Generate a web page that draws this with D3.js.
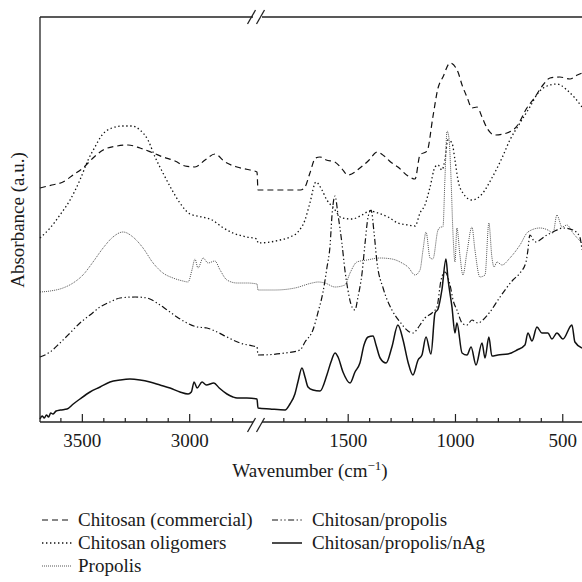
<!DOCTYPE html>
<html><head><meta charset="utf-8">
<script src="https://cdn.jsdelivr.net/npm/d3@7"></script>
<style>
body{margin:0;background:#fff}
svg{display:block}
text{font-family:"Liberation Serif","DejaVu Serif",serif;fill:#1a1a1a}
</style>
</head><body>
<svg id="chart" width="582" height="582"></svg>
<script>
// ---------- DATA (wavenumber cm^-1, absorbance a.u.) ----------
const seriesNames = ["Chitosan (commercial)","Chitosan oligomers","Propolis","Chitosan/propolis","Chitosan/propolis/nAg"];
const majorTicks = [3500,3000,1500,1000,500];
const leftMinorTicks = [3600,3400,3300,3200,3100,2900,2800];
const rightMinorTicks = [1800,1700,1600,1400,1300,1200,1100,900,800,700,600];

const chitosanCommercial = [[3695,2.34],[3640,2.37],[3588,2.40],[3541,2.47],[3495,2.54],[3448,2.64],[3401,2.72],[3336,2.76],[3285,2.77],[3229,2.74],[3168,2.69],[3122,2.65],[3066,2.61],[3019,2.56],[2973,2.55],[2926,2.62],[2880,2.68],[2833,2.60],[2777,2.55],[2716,2.52],[2684,2.50],
[1918,2.32],[1815,2.32],[1720,2.32],[1699,2.35],[1676,2.49],[1650,2.64],[1629,2.65],[1600,2.62],[1560,2.60],[1530,2.54],[1499,2.47],[1443,2.54],[1400,2.62],[1363,2.70],[1330,2.66],[1300,2.60],[1266,2.55],[1219,2.46],[1186,2.43],[1163,2.67],[1130,2.71],[1103,3.05],[1079,3.34],[1056,3.45],[1023,3.59],[986,3.50],[967,3.37],[944,3.25],[921,3.14],[897,3.15],[874,3.05],[851,2.94],[814,2.87],[758,2.89],[711,2.96],[665,3.14],[627,3.25],[590,3.37],[557,3.44],[511,3.45],[464,3.43],[430,3.47],[408,3.49]];

const chitosanOligomers = [[3695,1.84],[3648,1.94],[3602,2.07],[3555,2.22],[3509,2.42],[3471,2.62],[3439,2.75],[3406,2.87],[3360,2.94],[3313,2.96],[3266,2.96],[3229,2.92],[3192,2.82],[3159,2.65],[3122,2.49],[3080,2.32],[3043,2.19],[2996,2.08],[2940,2.05],[2893,2.02],[2847,1.95],[2796,1.89],[2731,1.85],[2684,1.83],
[1918,1.79],[1815,1.82],[1769,1.85],[1732,1.90],[1699,2.02],[1676,2.19],[1648,2.40],[1620,2.32],[1597,2.22],[1569,2.15],[1527,2.04],[1480,2.03],[1433,2.07],[1396,2.11],[1359,2.09],[1312,2.05],[1266,1.99],[1219,1.97],[1186,1.96],[1163,2.09],[1140,2.17],[1116,2.35],[1093,2.55],[1079,2.57],[1061,2.52],[1047,2.62],[1033,2.82],[1014,2.79],[1000,2.62],[986,2.42],[963,2.29],[921,2.22],[874,2.28],[828,2.44],[781,2.64],[744,2.82],[697,2.99],[651,3.15],[613,3.29],[571,3.36],[525,3.38],[478,3.32],[441,3.24],[408,3.15]];

const propolis = [[3695,1.30],[3648,1.31],[3588,1.34],[3541,1.39],[3495,1.47],[3448,1.60],[3401,1.74],[3355,1.85],[3308,1.90],[3262,1.85],[3215,1.74],[3168,1.59],[3122,1.49],[3075,1.44],[3029,1.41],[3005,1.40],[2987,1.52],[2973,1.63],[2959,1.54],[2935,1.64],[2912,1.59],[2880,1.61],[2856,1.52],[2824,1.42],[2777,1.39],[2731,1.39],[2684,1.38],
[1918,1.32],[1839,1.32],[1746,1.34],[1666,1.39],[1638,1.40],[1606,1.39],[1559,1.35],[1513,1.37],[1489,1.49],[1457,1.60],[1410,1.62],[1349,1.64],[1294,1.63],[1247,1.59],[1219,1.55],[1186,1.47],[1163,1.52],[1149,1.72],[1135,1.90],[1116,1.64],[1103,1.63],[1079,1.92],[1065,1.95],[1056,1.95],[1047,2.42],[1037,2.91],[1028,2.84],[1019,2.47],[1009,1.87],[1000,1.60],[991,1.94],[977,1.67],[963,1.47],[944,1.70],[921,1.95],[907,1.72],[884,1.45],[860,1.47],[842,1.99],[828,1.65],[818,1.55],[804,1.60],[781,1.57],[744,1.64],[697,1.77],[660,1.90],[604,1.94],[567,1.92],[543,1.89],[525,2.07],[501,1.95],[478,1.97],[450,1.89],[408,1.79]];

const chitosanPropolis = [[3695,0.65],[3648,0.70],[3602,0.79],[3555,0.89],[3509,0.99],[3462,1.07],[3415,1.15],[3369,1.20],[3322,1.24],[3252,1.25],[3196,1.24],[3150,1.19],[3103,1.12],[3057,1.05],[3010,0.99],[2963,0.95],[2917,0.94],[2870,0.90],[2824,0.85],[2763,0.79],[2703,0.76],[2684,0.75],
[1918,0.67],[1792,0.69],[1722,0.72],[1699,0.80],[1662,0.92],[1638,1.10],[1615,1.30],[1597,1.54],[1582,1.77],[1573,2.07],[1559,2.26],[1545,2.07],[1527,1.79],[1513,1.52],[1499,1.32],[1480,1.15],[1466,1.12],[1452,1.25],[1433,1.49],[1419,1.79],[1405,2.05],[1391,2.12],[1377,1.89],[1363,1.59],[1335,1.34],[1294,1.12],[1256,1.00],[1219,0.91],[1196,0.89],[1163,0.97],[1140,1.04],[1107,1.09],[1084,1.15],[1065,1.42],[1047,1.50],[1023,1.37],[1009,1.22],[991,1.12],[963,0.98],[944,0.97],[921,1.02],[893,0.99],[870,1.02],[837,1.10],[790,1.25],[730,1.42],[697,1.49],[669,1.60],[660,1.72],[651,1.87],[627,1.80],[571,1.87],[543,1.90],[497,1.94],[450,1.92],[418,1.85],[408,1.72]];

const chitosanPropolisNAg = [[3695,0.03],[3685,0.06],[3675,0.04],[3665,0.07],[3655,0.05],[3645,0.09],[3635,0.08],[3620,0.11],[3600,0.12],[3569,0.13],[3540,0.18],[3509,0.23],[3462,0.30],[3415,0.35],[3369,0.40],[3322,0.42],[3276,0.43],[3229,0.42],[3183,0.40],[3136,0.37],[3089,0.34],[3043,0.30],[3005,0.28],[2990,0.30],[2977,0.40],[2963,0.34],[2940,0.40],[2920,0.37],[2885,0.39],[2860,0.34],[2824,0.28],[2796,0.25],[2777,0.24],[2731,0.24],[2684,0.23],
[1918,0.14],[1862,0.13],[1792,0.12],[1769,0.18],[1746,0.28],[1732,0.40],[1713,0.54],[1699,0.45],[1685,0.35],[1662,0.32],[1629,0.31],[1597,0.47],[1578,0.60],[1559,0.69],[1545,0.65],[1522,0.50],[1489,0.39],[1466,0.50],[1443,0.59],[1424,0.77],[1405,0.85],[1382,0.86],[1368,0.77],[1349,0.64],[1321,0.59],[1294,0.75],[1266,0.97],[1242,0.82],[1219,0.60],[1196,0.47],[1172,0.62],[1154,0.67],[1135,0.85],[1112,0.68],[1093,1.09],[1079,1.13],[1061,1.32],[1042,1.63],[1033,1.44],[1014,1.15],[1000,0.89],[991,0.99],[967,0.69],[944,0.67],[925,0.75],[902,0.57],[874,0.79],[860,0.64],[842,0.85],[828,0.66],[800,0.67],[753,0.68],[711,0.72],[674,0.77],[660,0.89],[641,0.81],[618,0.95],[595,0.89],[567,0.89],[548,0.83],[525,0.89],[497,0.83],[455,0.97],[441,0.80],[408,0.74]];

// ---------- LAYOUT ----------
const svg = d3.select("#chart");
const plotLeft = 40, plotTop = 17, plotBottom = 422, plotRight = 582;
const xLeft = d3.scaleLinear().domain([3695, 2684]).range([plotLeft, 257]);
const xRight = d3.scaleLinear().domain([1918, 408]).range([258, plotRight]);
const xPos = w => (w >= 2300 ? xLeft(w) : xRight(w));
const y = d3.scaleLinear().domain([0, 4.05]).range([plotBottom, plotTop]);

const styles = [
  {data: chitosanCommercial, dash: "6,4", color: "#111", width: 1.2},
  {data: chitosanOligomers, dash: "1.4,2.6", color: "#111", width: 1.3},
  {data: propolis, dash: "1,1", color: "#555", width: 1.0},
  {data: chitosanPropolis, dash: "6,2.5,1.3,2.5,1.3,2.5", color: "#111", width: 1.2},
  {data: chitosanPropolisNAg, dash: null, color: "#111", width: 1.5}
];

const line = d3.line().x(d => xPos(d[0])).y(d => y(d[1])).curve(d3.curveMonotoneX);

svg.append("g").selectAll("path").data(styles).join("path")
  .attr("d", d => line(d.data))
  .attr("fill", "none")
  .attr("stroke", d => d.color)
  .attr("stroke-width", d => d.width)
  .attr("stroke-dasharray", d => d.dash);

// ---------- AXES / FRAME ----------
const frame = svg.append("g").attr("stroke", "#222").attr("stroke-width", 1.3).attr("fill", "none");
frame.append("line").attr("x1", plotLeft).attr("x2", plotLeft).attr("y1", plotTop).attr("y2", plotBottom);
frame.append("line").attr("x1", plotLeft).attr("x2", 253).attr("y1", plotTop).attr("y2", plotTop);
frame.append("line").attr("x1", 262).attr("x2", plotRight).attr("y1", plotTop).attr("y2", plotTop);
frame.append("line").attr("x1", plotLeft).attr("x2", 253).attr("y1", plotBottom).attr("y2", plotBottom);
frame.append("line").attr("x1", 262).attr("x2", plotRight).attr("y1", plotBottom).attr("y2", plotBottom);
[plotTop, plotBottom + 3].forEach(cy => {
  [251.5, 260.5].forEach(cx => {
    frame.append("line").attr("x1", cx - 4).attr("y1", cy + 7).attr("x2", cx + 4).attr("y2", cy - 7);
  });
});

function drawAxis(scale, minor, major) {
  svg.append("g").attr("transform", `translate(0,${plotBottom})`)
    .call(d3.axisBottom(scale).tickValues(minor).tickSizeInner(-4).tickSizeOuter(0).tickFormat(""))
    .call(g => g.select(".domain").remove())
    .call(g => g.selectAll("line").attr("stroke", "#222").attr("stroke-width", 1.2));
  svg.append("g").attr("transform", `translate(0,${plotBottom})`)
    .call(d3.axisBottom(scale).tickValues(major).tickSizeInner(-8).tickSizeOuter(0).tickPadding(12).tickFormat(d3.format("d")))
    .call(g => g.select(".domain").remove())
    .call(g => g.selectAll("line").attr("stroke", "#222").attr("stroke-width", 1.2))
    .call(g => g.selectAll("text").attr("font-size", 19).attr("font-family", "Liberation Serif").attr("fill", "#1a1a1a"));
}
drawAxis(xLeft, leftMinorTicks, majorTicks.filter(t => t > 2300));
drawAxis(xRight, rightMinorTicks, majorTicks.filter(t => t < 2300));

const xt = svg.append("text").attr("x", 310).attr("y", 477).attr("text-anchor", "middle").attr("font-size", 19);
xt.append("tspan").text("Wavenumber (cm");
xt.append("tspan").attr("dy", -7).attr("font-size", 13).text("−1");
xt.append("tspan").attr("dy", 7).text(")");

svg.append("text").attr("transform", "translate(24,220) rotate(-90)")
  .attr("text-anchor", "middle").attr("font-size", 19).text("Absorbance (a.u.)");

// ---------- LEGEND ----------
const legendPos = [[42, 520], [42, 543], [42, 566], [272, 520], [272, 543]];
const leg = svg.append("g").selectAll("g").data(styles).join("g")
  .attr("transform", (d, i) => `translate(${legendPos[i][0]},${legendPos[i][1]})`);
leg.append("line").attr("x1", 0).attr("x2", 30).attr("y1", 0).attr("y2", 0)
  .attr("stroke", d => d.color).attr("stroke-width", d => d.width)
  .attr("stroke-dasharray", d => d.dash);
leg.append("text").attr("x", (d, i) => i < 3 ? 36 : 40).attr("y", 0).attr("dy", "0.33em").attr("font-size", 19)
  .text((d, i) => seriesNames[i]);
</script>
</body></html>
